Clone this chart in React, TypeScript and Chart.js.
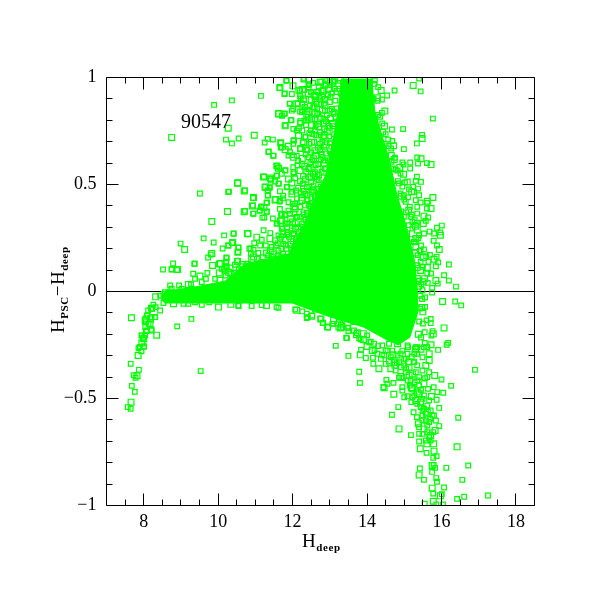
import React, { useEffect, useRef } from "react";
import { Chart, registerables } from "chart.js";
Chart.register(...registerables);

const xTickLabels = [8, 10, 12, 14, 16, 18];
const yTickLabels = [-1, -0.5, 0, 0.5, 1];
const xMinor = [7.5, 8.5, 9, 9.5, 10.5, 11, 11.5, 12.5, 13, 13.5, 14.5, 15, 15.5, 16.5, 17, 17.5];
const yMinor = [-0.9, -0.8, -0.7, -0.6, -0.4, -0.3, -0.2, -0.1, 0.1, 0.2, 0.3, 0.4, 0.6, 0.7, 0.8, 0.9];

type P = [number, number];

// Outline of the overplotted, saturated part of the cloud
const coreUpper: P[] = [[8.44,-.033],[8.57,.005],[9.24,.019],[10.19,.051],[10.72,.131],[11.88,.178],[12.34,.332],[12.52,.416],[12.87,.542],[13.06,.696],[13.22,.855],[13.3,.995],[14.14,.995],[14.22,.846],[14.35,.766],[14.62,.612],[14.81,.458],[15.08,.299],[15.29,.145],[15.37,-.009]];
const coreLower: P[] = [[8.44,-.033],[8.57,-.056],[10.19,-.056],[11.99,-.056],[13.01,-.121],[13.9,-.168],[14.54,-.229],[14.84,-.252],[15.16,-.215],[15.37,-.103],[15.37,-.009]];

const upperLeft: P[] = [[8.75,.72],[9.89,.872],[10.37,.893],[11.15,.914],[11.66,.953],[11.79,.925],[11.84,.987],[11.92,.878],[11.63,.832],[11.79,.832],[11.72,.822],[11.81,.776],[10.27,.763],[10.21,.71],[10.37,.692],[10.55,.715],[10.97,.73],[11.25,.696],[11.33,.713],[11.47,.71],[11.68,.695],[11.68,.673],[11.36,.654],[11.49,.635],[11.58,.587],[11.64,.579],[11.81,.567],[11.23,.536],[11.41,.53],[11.41,.519],[11.58,.54],[11.63,.505],[10.53,.508],[10.29,.467],[10.72,.472],[9.51,.458],[11.28,.488],[11.39,.488],[11.34,.47],[11.34,.45],[10.95,.439],[10.93,.402],[11.17,.397],[11.31,.416],[11.55,.43],[11.66,.424],[11.74,.435],[11.86,.489],[10.25,.374],[10.72,.377],[10.95,.363],[11.12,.379],[11.23,.391],[11.31,.374],[11.24,.346],[11.47,.341],[9.83,.327],[11.69,.357],[11.79,.36],[11.59,.318],[11.67,.329],[11.81,.318],[11.73,.294],[8.99,.224],[9.1,.196],[9.61,.248],[10.16,.262],[10.42,.271],[10.8,.271],[9.88,.229],[10.12,.201],[10.28,.215],[10.39,.229],[10.55,.206],[9.73,.159],[9.8,.173],[9.83,.178],[10.53,.184],[10.87,.201],[9.37,.131],[9.85,.122],[8.79,.131],[8.52,.103],[8.75,.104],[8.91,.103],[10.22,.159],[10.22,.139],[10.22,.118],[10.06,.131],[10.15,.103]];

const sparseTop: P[] = [[11.83,.984],[11.65,.951],[12.01,.961],[11.78,.923],[11.98,.923],[12.2,.939],[12.27,.944],[12.43,.965],[12.43,.954],[12.29,.99],[12.74,.978],[12.87,.99],[12.87,.962],[13.01,.978],[12.96,.947],[13.1,.986],[13.14,.947],[12.5,.931],[12.6,.916],[12.69,.931],[12.87,.9],[12.78,.939],[12.29,.9],[12.2,.912],[12.59,.897],[11.93,.877],[12.11,.877],[12.26,.877],[12.47,.869],[12.65,.877],[12.87,.869],[12.02,.853],[11.98,.845],[12.25,.838],[12.38,.83],[12.56,.861],[12.69,.83],[12.2,.841],[12.6,.83],[13.1,.83],[13.05,.853],[12.87,.845],[11.62,.83],[11.71,.822],[11.78,.83],[11.97,.8],[11.8,.774],[12.32,.799],[12.36,.778],[12.2,.788],[12.51,.775],[12.69,.783],[12.83,.806],[12.96,.775],[12.51,.81],[12.02,.76],[12.11,.752],[12.26,.752],[12.16,.729],[12.34,.721],[12.53,.736],[12.74,.744],[12.87,.729],[12.02,.705],[11.68,.694],[12.27,.697],[12.51,.697],[12.74,.69],[13.01,.697],[11.71,.674],[11.89,.679],[12.02,.69],[11.35,.652],[11.48,.634],[11.8,.663],[11.93,.651],[12.2,.666],[12.38,.663],[12.6,.658],[12.78,.643],[13.05,.643],[11.89,.635],[12.02,.627],[12.43,.627],[12.11,.635],[12.25,.596],[12.56,.62],[12.87,.612],[12.69,.596],[11.57,.587],[11.62,.576],[11.8,.565],[12.02,.581],[12.02,.557],[12.2,.565],[12.43,.573],[12.6,.557],[12.87,.573],[11.22,.535],[11.4,.526],[11.57,.542],[11.71,.55],[11.89,.526],[12.07,.529],[12.43,.534],[12.65,.526],[10.52,.506],[11.53,.514],[11.62,.503],[11.84,.487],[11.98,.507],[12.27,.503],[12.38,.487],[12.56,.495],[11.26,.487],[11.38,.484],[11.33,.472],[11.33,.448],[10.7,.47],[10.27,.465],[11.66,.468],[11.75,.448],[11.98,.456],[12.09,.472],[12.34,.456],[12.51,.464],[11.53,.428],[11.65,.42],[11.89,.417],[12.07,.409],[12.25,.425],[12.43,.409],[10.94,.437],[11.3,.414],[10.92,.4],[11.15,.395],[11.11,.377],[10.94,.364],[10.7,.373],[11.3,.372],[11.71,.363],[11.89,.378],[12.07,.386],[12.29,.37],[11.66,.386]];

const sparseMid: P[] = [[12.31,.995],[12.44,.987],[12.77,.98],[12.93,.987],[13.11,.98],[13.29,.987],[12.44,.969],[12.89,.964],[13.11,.949],[12.17,.941],[12.31,.941],[12.66,.933],[12.49,.933],[12.84,.941],[13.29,.925],[12.22,.902],[12.31,.894],[12.62,.91],[12.8,.91],[13.02,.91],[12.14,.879],[12.58,.863],[12.84,.879],[13.11,.84],[12.26,.847],[12.44,.84],[12.66,.832],[12.92,.824],[11.95,.801],[12.22,.793],[12.4,.801],[12.62,.777],[12.84,.785],[13.07,.785],[12.17,.762],[12.49,.754],[12.71,.73],[12.93,.746],[12.04,.707],[12.35,.723],[12.58,.699],[12.22,.668],[12.4,.66],[12.84,.676],[11.99,.637],[12.26,.622],[12.53,.614],[12.8,.629],[12.13,.59],[12.44,.575],[12.71,.544],[12.04,.551],[12.29,.505],[12.49,.536],[11.99,.466],[12.22,.458],[12.58,.466],[12.04,.396],[12.4,.427],[12.66,.38],[12.13,.349],[12.44,.333],[12.04,.271],[12.26,.255],[11.57,.317],[11.71,.332],[11.8,.356],[11.93,.363],[12.11,.348],[12.07,.317],[12.29,.324],[11.89,.317],[10.41,.27],[10.79,.27],[11.22,.286],[11.4,.273],[11.62,.262],[11.89,.27],[12.02,.27],[11.71,.293],[11.19,.345],[11.04,.254],[11.17,.242],[10.97,.226],[11.13,.215],[11.39,.247],[11.53,.239],[11.66,.247],[11.75,.223],[12.11,.247],[10.27,.215],[10.38,.228],[10.54,.205],[10.53,.183],[10.84,.2],[10.95,.195],[10.88,.177],[11.3,.18],[11.44,.208],[11.62,.192],[11.84,.2],[11.98,.2],[10.52,.144],[10.23,.156],[10.21,.133],[10.95,.161],[11.04,.153],[11.22,.138],[11.44,.161],[11.71,.161],[11.57,.145],[10.46,.088],[10.18,.095]];

const denseLeft: P[] = [[13.22,.972],[13.0,.965],[12.7,.958],[12.55,.975],[13.2,.935],[13.05,.925],[12.95,.918],[12.72,.905],[12.42,.925],[13.15,.892],[13.0,.885],[12.76,.875],[12.5,.895],[12.33,.862],[13.18,.855],[13.0,.845],[12.8,.848],[12.66,.855],[12.4,.85],[13.15,.815],[13.02,.808],[12.9,.795],[12.75,.812],[12.6,.805],[12.42,.815],[13.1,.772],[13.0,.765],[12.85,.758],[12.7,.77],[12.6,.752],[13.12,.735],[12.98,.725],[12.82,.718],[12.63,.73],[12.45,.74],[13.0,.692],[12.9,.685],[12.8,.7],[12.68,.672],[12.45,.69],[12.3,.695],[13.0,.655],[12.9,.645],[12.74,.66],[12.62,.635],[12.5,.65],[12.35,.64],[12.95,.612],[12.85,.6],[12.75,.615],[12.62,.59],[12.48,.605],[12.33,.585],[12.15,.61],[12.9,.575],[12.78,.56],[12.68,.572],[12.55,.55],[12.37,.56],[12.28,.54],[12.8,.53],[12.7,.52],[12.6,.535],[12.5,.51],[12.35,.525],[12.2,.515],[12.75,.49],[12.66,.48],[12.55,.475],[12.45,.49],[12.3,.47],[12.15,.485],[12.7,.455],[12.6,.44],[12.5,.435],[12.4,.45],[12.25,.44],[12.12,.435],[12.52,.415],[12.45,.4],[12.35,.405],[12.2,.395],[12.0,.41],[12.48,.375],[12.4,.365],[12.3,.36],[12.2,.35],[12.05,.365],[11.95,.34],[12.35,.335],[12.25,.315],[12.15,.3],[12.0,.325],[11.85,.3],[12.28,.29],[12.18,.28],[12.08,.295],[11.98,.285],[11.85,.265],[11.75,.28],[12.2,.25],[12.1,.24],[12.0,.235],[11.9,.255],[11.8,.24],[11.7,.255],[11.6,.225],[12.05,.21],[11.95,.22],[11.82,.215],[11.7,.2],[11.55,.215],[11.4,.19],[11.28,.215],[11.75,.175],[11.6,.168],[11.5,.175],[11.35,.17],[11.2,.16],[11.08,.18],[10.9,.15],[10.8,.13],[10.62,.118],[10.45,.125],[10.32,.11],[10.65,.092],[10.55,.104],[10.35,.082],[10.28,.09]];

const denseRight: P[] = [[14.2,.97],[14.3,.955],[14.28,.905],[14.18,.9],[14.3,.825],[14.4,.835],[14.42,.745],[14.5,.735],[14.5,.69],[14.58,.68],[14.65,.635],[14.75,.625],[14.7,.575],[14.82,.565],[14.88,.58],[14.86,.505],[14.95,.49],[15.02,.51],[14.92,.445],[15.0,.43],[15.1,.44],[15.05,.37],[15.12,.38],[15.2,.36],[15.12,.31],[15.22,.325],[15.3,.305],[15.2,.245],[15.3,.23],[15.38,.25],[15.3,.18],[15.36,.17],[15.44,.19],[15.36,.11],[15.44,.098],[15.5,.115],[15.4,.05],[15.46,.034],[15.55,.06],[15.42,-.02],[15.48,-.035],[15.42,-.08],[15.5,-.095],[15.4,-.14],[15.5,-.15],[15.6,-.135],[15.38,-.2],[15.45,-.215],[15.55,-.19],[15.35,-.26],[15.45,-.27],[15.55,-.24]];

const denseBottom: P[] = [[13.1,-.135],[13.3,-.155],[13.5,-.185],[13.7,-.205],[13.9,-.225],[14.1,-.235],[14.3,-.255],[14.5,-.275],[14.7,-.295],[14.0,-.205],[14.2,-.275],[14.4,-.295],[14.6,-.325],[14.8,-.335],[15.0,-.315],[15.2,-.305],[15.3,-.27],[15.1,-.26],[14.9,-.29],[15.25,-.33],[14.75,-.345],[15.05,-.36],[15.35,-.345],[15.15,-.44],[15.22,-.455],[15.45,-.46],[15.56,-.405],[15.35,-.415],[15.12,-.33],[14.95,-.405]];

const band: P[] = [[8.75,.103],[8.9,.1],[9.36,.129],[10.03,.129],[10.21,.136],[10.23,.114],[10.1,.106],[10.52,.14],[10.64,.129],[10.79,.129],[9.33,.083],[9.51,.072],[9.71,.087],[9.38,.059],[9.67,.059],[10.03,.087],[10.2,.075],[10.48,.087],[10.37,.059],[10.7,.067],[9.27,.033],[9.56,.044],[9.92,.059],[10.05,.052],[8.71,.028],[8.95,.028],[9.29,.013],[9.2,.033],[9.02,.013],[8.75,.013],[8.53,-.011],[8.32,-.025],[8.44,-.019],[8.57,-.003],[8.71,-.003],[8.84,-.011],[9.07,-.057],[9.2,-.057],[9.56,-.062],[10.01,-.073],[10.54,-.065],[9.76,-.05],[9.38,-.05],[8.8,-.057],[8.53,-.054],[8.44,-.089],[8.26,-.062],[8.21,-.078],[8.32,-.073],[8.12,-.089],[8.1,-.112],[8.06,-.128],[8.3,-.12],[8.21,-.12],[8.06,-.143],[8.17,-.151],[8.04,-.166],[8.21,-.182],[8.06,-.185],[8.35,-.204],[7.95,-.205],[8.04,-.205],[7.99,-.216],[7.95,-.241],[8.01,-.257],[7.9,-.26],[7.86,-.265],[7.67,-.123],[8.9,-.163],[9.28,-.128],[7.94,-.206],[8,-.221],[7.89,-.26],[8,-.257],[7.94,-.279],[7.85,-.299],[7.65,-.338],[7.87,-.366],[7.73,-.391],[7.82,-.394],[7.78,-.403],[7.68,-.441],[7.76,-.469],[7.66,-.517],[7.57,-.54],[7.65,-.548],[9.53,-.372],[8.18,-.128],[8.13,-.151],[8.09,-.182],[8.21,-.179],[8.04,-.135],[8.09,-.112],[8.22,-.081],[8.31,-.12],[10.34,-.06],[10.55,-.068],[10.9,-.068],[11.17,-.063],[11.3,-.065],[11.57,-.073],[11.62,-.076],[12.07,-.084],[12.11,-.088],[12.26,-.093],[12.38,-.104],[12.38,-.124],[12.51,-.116],[12.6,-.085],[12.75,-.127],[12.81,-.148],[12.94,-.166],[13.07,-.151],[13.28,-.132],[13.23,-.169],[13.32,-.166],[13.48,-.169],[13.44,-.216],[13.79,-.219],[13.9,-.197],[13.72,-.194],[13.63,-.143]];

const rightEdge: P[] = [[15.4,.995],[15.24,.963],[15.44,.935],[14.74,.939],[14.54,.916],[14.38,.939],[14.21,.986],[14.4,.897],[14.28,.891],[14.48,.843],[15.77,.808],[14.35,.816],[14.41,.785],[14.47,.773],[14.67,.757],[14.97,.759],[15.48,.732],[15.48,.715],[15.34,.692],[14.57,.71],[14.68,.703],[14.71,.681],[14.65,.668],[14.99,.665],[15.35,.626],[15.45,.62],[15.16,.603],[15.37,.598],[15.61,.6],[15.72,.593],[14.95,.603],[14.98,.593],[15.16,.575],[14.73,.617],[14.66,.606],[14.77,.57],[14.9,.551],[14.98,.548],[15.34,.536],[15.31,.517],[15.45,.512],[15.08,.512],[15.13,.477],[15.24,.489],[15.37,.481],[15.2,.466],[14.83,.516],[14.9,.458],[14.99,.45],[15.77,.439],[15.4,.45],[15.26,.466],[15.31,.427],[15.62,.422],[15.62,.414],[15.44,.416],[15.61,.388],[15.72,.388],[15.15,.396],[15.35,.396],[15.04,.419],[15.53,.352],[15.64,.346],[15.35,.364],[15.58,.33],[15.51,.318],[15.34,.321],[15.17,.349],[14.99,.349],[14.9,.372],[16.01,.308],[15.88,.298],[15.97,.276],[15.97,.263],[15.8,.271],[15.68,.28],[15.53,.271],[15.35,.287],[15.4,.263],[15.22,.294],[15.08,.271],[15.31,.248],[15.28,.333],[15.79,.237],[15.88,.215],[15.94,.196],[15.45,.215],[15.53,.196],[15.42,.19],[15.31,.209],[15.26,.232],[15.69,.171],[15.59,.165],[15.51,.159],[15.44,.139],[15.87,.162],[15.91,.136],[15.8,.151],[15.65,.139],[15.85,.118],[16.2,.126],[15.62,.112],[15.62,.084],[15.72,.084],[16.07,.076],[15.85,.051],[16.2,.051],[15.9,.037],[15.63,.04],[15.51,.045],[15.75,.017],[16.39,.023],[15.75,-.005],[15.35,.061],[15.4,.022],[15.49,.006],[15.56,-.028],[16.03,-.047],[16.37,-.047],[16.53,-.065],[15.56,-.072],[15.47,-.075],[15.35,.123]];

const lowerTail: P[] = [[12.4,-.12],[12.53,-.112],[12.76,-.128],[12.82,-.146],[12.95,-.167],[13.09,-.151],[13.29,-.17],[13.34,-.143],[13.5,-.17],[13.65,-.182],[13.74,-.193],[13.16,-.254],[13.46,-.218],[13.5,-.301],[13.82,-.296],[13.84,-.273],[13.83,-.224],[13.97,-.311],[14,-.257],[14.06,-.237],[14.16,-.31],[14.17,-.338],[14.32,-.361],[13.79,-.375],[13.81,-.427],[14.44,-.447],[14.46,-.45],[14.52,-.413],[14.55,-.431],[14.71,-.427],[14.72,-.48],[15,-.494],[14.95,-.447],[14.95,-.463],[14.91,-.397],[14.86,-.403],[15.09,-.416],[15.09,-.489],[15.19,-.45],[15.19,-.517],[14.84,-.54],[14.67,-.576],[14.86,-.642],[15.18,-.671],[15.4,-.665],[15.4,-.701],[15.43,-.735],[15.6,-.754],[15.25,-.564],[15.34,-.587],[15.38,-.618],[15.49,-.579],[15.49,-.665],[15.62,-.626],[15.61,-.712],[15.7,-.595],[15.71,-.696],[15.85,-.603],[15.79,-.712],[15.94,-.629],[15.94,-.544],[15.87,-.506],[15.73,-.491],[16.05,-.473],[16.26,-.441],[16,-.411],[15.82,-.392],[15.89,-.47],[15.64,-.455],[15.79,-.447],[15.35,-.47],[15.49,-.502],[15.62,-.533],[15.44,-.54],[15.31,-.509],[15.58,-.572],[15.71,-.556],[15.8,-.579],[15.83,-.649],[15.78,-.657],[16.9,-.366],[16.45,-.59],[16.42,-.726],[16.13,-.824],[16.72,-.813],[16.56,-.88],[15.8,-.746],[15.78,-.777],[15.87,-.769],[15.79,-.81],[15.75,-.813],[15.83,-.824],[15.75,-.843],[15.42,-.827],[15.4,-.857],[15.53,-.88],[15.86,-.872],[15.88,-.889],[15.75,-.919],[16.07,-.916],[15.78,-.944],[16.01,-.947],[15.97,-.955],[16.42,-.969],[16.61,-.959],[17.25,-.953],[15.78,-.98],[15.55,-.992],[15.86,-.995],[16.04,-.995],[16.07,-.17],[16.18,-.24],[16.14,-.249],[15.91,-.273],[15.72,-.249],[15.71,-.128],[15.71,-.148],[15.76,-.185],[15.78,-.198],[15.73,-.206]];

const tailDense: P[] = [[14.55,-.276],[14.64,-.307],[14.73,-.33],[14.82,-.299],[14.95,-.276],[15.04,-.315],[15.13,-.354],[15.27,-.33],[15.35,-.291],[15.49,-.307],[15.58,-.346],[15.67,-.377],[15.49,-.369],[15.4,-.4],[15.22,-.385],[15.04,-.377],[14.91,-.354],[14.77,-.369],[14.64,-.361],[14.5,-.338],[14.37,-.315],[14.28,-.291],[14.14,-.276],[14.19,-.244],[14.41,-.252],[14.59,-.244],[14.82,-.244],[15.09,-.252],[15.31,-.26],[15.53,-.26],[15.67,-.291],[15.62,-.26],[15.28,-.424],[15.4,-.439],[15.53,-.431],[15.17,-.416],[15.62,-.4],[15.31,-.377],[15.13,-.392],[15,-.346],[14.86,-.33],[14.68,-.276],[15.67,-.322],[15.27,-.291],[15.09,-.291],[14.46,-.299],[15.4,-.478],[15.27,-.486],[15.53,-.486],[15.67,-.509],[15.44,-.517],[15.22,-.494],[15.35,-.525],[15.53,-.548],[15.62,-.564],[15.49,-.556],[15.67,-.61],[15.58,-.603],[15.53,-.642],[15.62,-.657],[15.67,-.681],[15.58,-.696],[15.71,-.673],[15.4,-.634],[15.49,-.603],[15.76,-.579]];

const labelX = 9;
const labelY = 0.766;
const noteText = "90547";

const allPoints: P[] = [...upperLeft, ...sparseTop, ...sparseMid, ...denseLeft, ...band, ...rightEdge, ...denseRight, ...lowerTail, ...tailDense, ...denseBottom];

function rich(ctx: CanvasRenderingContext2D, parts: [string, boolean][], x: number, y: number) {
  let cx = x;
  for (const [t, sub] of parts) {
    ctx.font = sub ? 'bold 11px "Liberation Serif"' : '19px "Liberation Serif"';
    (ctx as any).letterSpacing = sub ? "0.6px" : "0px";
    ctx.fillText(t, cx, sub ? y + 4 : y);
    cx += ctx.measureText(t).width + (sub ? 0 : 0.5);
  }
  (ctx as any).letterSpacing = "0px";
}

const framePlugin = {
  id: "frame",
  afterDatasetsDraw(chart: any) {
    const { ctx, chartArea: a, scales } = chart;
    const sx = scales.x, sy = scales.y;
    ctx.save();
    ctx.strokeStyle = "#000";
    ctx.lineWidth = 1;
    ctx.beginPath();
    ctx.rect(a.left, a.top, a.right - a.left, a.bottom - a.top);
    const tx = (v: number, l: number) => {
      const p = Math.floor(sx.getPixelForValue(v)) + 0.5;
      ctx.moveTo(p, a.top); ctx.lineTo(p, a.top + l);
      ctx.moveTo(p, a.bottom); ctx.lineTo(p, a.bottom - l);
    };
    const ty = (v: number, l: number) => {
      const p = Math.floor(sy.getPixelForValue(v)) + 0.5;
      ctx.moveTo(a.left, p); ctx.lineTo(a.left + l, p);
      ctx.moveTo(a.right, p); ctx.lineTo(a.right - l, p);
    };
    xTickLabels.forEach((v) => tx(v, 12));
    xMinor.forEach((v) => tx(v, 6));
    yTickLabels.forEach((v) => ty(v, 12));
    yMinor.forEach((v) => ty(v, 6));
    ctx.stroke();
    ctx.fillStyle = "#000";
    ctx.textAlign = "left";
    ctx.textBaseline = "alphabetic";
    ctx.font = '20px "Liberation Serif"';
    ctx.fillText(noteText, sx.getPixelForValue(labelX), sy.getPixelForValue(labelY));
    rich(ctx, [["H", false], ["deep", true]], 302, 547);
    ctx.translate(64, 333);
    ctx.rotate(-Math.PI / 2);
    rich(ctx, [["H", false], ["PSC", true], ["\u2212", false], ["H", false], ["deep", true]], 0, 0);
    ctx.restore();
  },
};

export default function App() {
  const ref = useRef<HTMLCanvasElement>(null);
  useEffect(() => {
    if (!ref.current) return;
    const toXY = (a: P[]) => a.map(([x, y]) => ({ x, y }));
    const chart = new Chart(ref.current, {
      type: "scatter",
      data: {
        datasets: [
          { type: "line", data: toXY(coreUpper), borderWidth: 0, pointRadius: 0, tension: 0, fill: "+1", backgroundColor: "#00ff00", borderColor: "#00ff00", order: 1 },
          { type: "line", data: toXY(coreLower), borderWidth: 0, pointRadius: 0, tension: 0, fill: false, borderColor: "#00ff00", order: 1 },
          { type: "line", data: [{ x: 7, y: 0 }, { x: 18.5, y: 0 }], borderWidth: 1, borderColor: "#000", pointRadius: 0, fill: false, order: 2 },
          {
            data: toXY(allPoints),
            pointStyle: "rect",
            pointRadius: (c: any) => (c.dataIndex % 4 === 0 ? 4.1 : 3.3),
            borderColor: "#00ff00",
            borderWidth: 1.2,
            backgroundColor: "rgba(0,0,0,0)",
            order: 0,
          },
        ],
      } as any,
      plugins: [framePlugin],
      options: {
        animation: false,
        responsive: false,
        layout: { padding: { top: 77.5, right: 76.5, left: 0, bottom: 0 } },
        plugins: { legend: { display: false }, tooltip: { enabled: false } },
        scales: {
          x: {
            type: "linear",
            min: 7,
            max: 18.5,
            grid: { display: false, drawTicks: false },
            border: { display: false },
            afterBuildTicks: (s: any) => { s.ticks = xTickLabels.map((value) => ({ value })); },
            afterFit: (s: any) => { s.height = 105.5; },
            ticks: { color: "#000", padding: 6, maxRotation: 0, autoSkip: false, font: { family: '"Liberation Serif"', size: 18 } },
          },
          y: {
            type: "linear",
            min: -1,
            max: 1,
            grid: { display: false, drawTicks: false },
            border: { display: false },
            afterBuildTicks: (s: any) => { s.ticks = yTickLabels.map((value) => ({ value })); },
            afterFit: (s: any) => { s.width = 106.5; },
            ticks: {
              color: "#000",
              padding: 10,
              autoSkip: false,
              font: { family: '"Liberation Serif"', size: 18 },
              callback: (v: any) => String(v).replace("-", "\u2212"),
            },
          },
        },
      } as any,
    });
    return () => chart.destroy();
  }, []);
  return (
    <div style={{ position: "absolute", left: 0, top: 0, width: 611, height: 611, background: "#fff" }}>
      <canvas ref={ref} width={611} height={611} style={{ display: "block" }} />
    </div>
  );
}
